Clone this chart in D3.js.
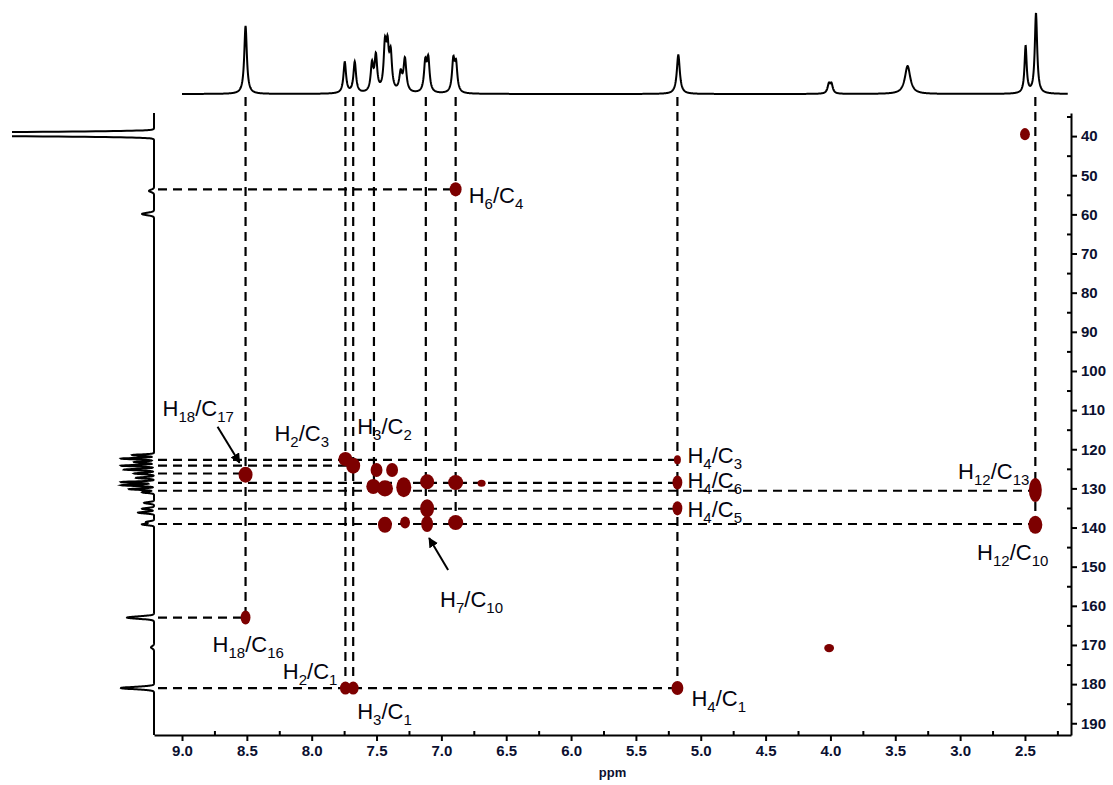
<!DOCTYPE html>
<html>
<head>
<meta charset="utf-8">
<script src="https://cdn.jsdelivr.net/npm/d3@7"></script>
<style>
  body { margin: 0; background: #fff; }
  svg { display: block; }
  text { font-family: "Liberation Sans", Arial, sans-serif; }
</style>
</head>
<body>
<svg id="chart" width="1113" height="785"></svg>
<script>
// 1H projection (top): [ppm, height, half width in ppm]
const protonPeaks = [
  [8.51, 68, 0.012],
  [7.745, 31, 0.012], [7.668, 31, 0.012],
  [7.535, 27, 0.012], [7.505, 35, 0.012],
  [7.435, 44, 0.012], [7.415, 38, 0.011], [7.391, 36, 0.012],
  [7.314, 18, 0.013], [7.281, 33, 0.013],
  [7.124, 29, 0.012], [7.101, 32, 0.012],
  [6.908, 31, 0.012], [6.887, 27, 0.012],
  [5.173, 39, 0.014],
  [4.012, 9, 0.012], [3.992, 9, 0.012],
  [3.405, 28, 0.025],
  [2.495, 47, 0.010],
  [2.415, 80, 0.011]
]

// 13C projection (left): [ppm, intensity, sigma in ppm]
const carbonPeaks = [
  [39.5, 483, 0.35],
  [54.0, 5, 0.3], [59.9, 12, 0.3],
  [121.5, 22, 0.18], [122.4, 33, 0.18], [123.3, 20, 0.18], [124.2, 33, 0.18],
  [125.2, 30, 0.18], [126.2, 20, 0.18], [127.3, 18, 0.18], [128.4, 33, 0.18],
  [129.2, 33, 0.18], [130.2, 25, 0.18], [131.0, 12, 0.18],
  [133.7, 10, 0.2], [135.2, 12, 0.2], [136.2, 16, 0.2],
  [138.6, 8, 0.2], [139.2, 12, 0.2],
  [163.0, 27, 0.3], [170.6, 3, 0.3], [181.0, 33, 0.3]
]

// HMBC cross peaks: [1H ppm, 13C ppm, 1H width, 13C width]
const crossPeaks = [
  [8.51, 126.5, 0.054, 2.05],
  [7.74, 122.5, 0.054, 1.8],
  [7.68, 124.2, 0.054, 2.05],
  [7.50, 125.3, 0.046, 1.8],
  [7.38, 125.3, 0.046, 1.8],
  [7.525, 129.5, 0.054, 1.92],
  [7.435, 130.0, 0.062, 2.05],
  [7.29, 129.7, 0.058, 2.56],
  [7.11, 128.3, 0.054, 1.92],
  [6.89, 128.5, 0.058, 1.92],
  [6.69, 128.7, 0.031, 0.9],
  [7.11, 135.1, 0.054, 2.3],
  [7.435, 139.3, 0.054, 2.05],
  [7.28, 138.7, 0.038, 1.54],
  [7.11, 139.1, 0.046, 2.05],
  [6.89, 138.7, 0.058, 1.92],
  [6.89, 53.6, 0.046, 1.8],
  [5.18, 122.7, 0.027, 1.15],
  [5.18, 128.5, 0.038, 1.8],
  [5.18, 135.1, 0.038, 1.8],
  [2.42, 130.4, 0.05, 3.08],
  [2.42, 139.3, 0.054, 2.3],
  [2.50, 39.5, 0.038, 1.54],
  [4.01, 170.8, 0.038, 1.03],
  [8.51, 163.0, 0.038, 1.8],
  [7.74, 181.0, 0.042, 1.67],
  [7.68, 181.0, 0.042, 1.67],
  [5.18, 181.0, 0.046, 1.8]
]

// dashed guides: vertical [1H ppm, lowest 13C ppm], horizontal [13C ppm, last 1H ppm]
const protonGuides = [[8.51, 163], [7.74, 181], [7.68, 181], [7.52, 129.5], [7.12, 139.1], [6.89, 139.1], [5.18, 181], [2.42, 139.3]]
const carbonGuides = [[53.6, 6.89], [122.7, 5.18], [124.2, 7.68], [126.2, 8.51], [128.6, 5.18], [130.6, 2.42], [135.2, 5.18], [139.1, 2.42], [163, 8.51], [181, 5.18]]

const hTicks = [9.0, 8.5, 8.0, 7.5, 7.0, 6.5, 6.0, 5.5, 5.0, 4.5, 4.0, 3.5, 3.0, 2.5]
const hMinor = [8.75, 8.25, 7.75, 7.25, 6.75, 6.25, 5.75, 5.25, 4.75, 4.25, 3.75, 3.25, 2.75, 2.25]
const cTicks = [40, 50, 60, 70, 80, 90, 100, 110, 120, 130, 140, 150, 160, 170, 180, 190]
const cMinor = [35, 45, 55, 65, 75, 85, 95, 105, 115, 125, 135, 145, 155, 165, 175, 185]

// assignments: [H sub, C sub, anchor 1H, anchor 13C, dx, dy, text-anchor]
const labels = [
  ["18", "17", 8.51, 126.5, -83, -59, "start"],
  ["2", "3", 7.74, 122.5, -71, -18, "start"],
  ["3", "2", 7.68, 124.2, 4, -32, "start"],
  ["6", "4", 6.89, 53.6, 13, 14, "start"],
  ["4", "3", 5.18, 122.7, 10, 3, "start"],
  ["4", "6", 5.18, 128.5, 10, 5, "start"],
  ["4", "5", 5.18, 135.1, 10, 9, "start"],
  ["12", "13", 2.42, 130.4, -6, -11, "end"],
  ["12", "10", 2.42, 139.3, 13, 35, "end"],
  ["7", "10", 7.11, 139.1, 13, 83, "start"],
  ["18", "16", 8.51, 163.0, -33, 34, "start"],
  ["2", "1", 7.74, 181.0, -8, -9, "end"],
  ["3", "1", 7.68, 181.0, 4, 31, "start"],
  ["4", "1", 5.18, 181.0, 14, 18, "start"]
]
// arrows: [anchor 1H, anchor 13C, from dx, from dy, to dx, to dy]
const arrows = [
  [8.51, 126.5, -28, -48, -6, -12],
  [7.11, 139.1, 21, 46, 2, 14]
]

const svg = d3.select("#chart")
const ink = "#000"
const red = "#7d0000"

const x = d3.scaleLinear().domain([9.216, 2.145]).range([154, 1071])
const y = d3.scaleLinear().domain([34.1, 193]).range([113, 735])
const yTop = d3.scaleLinear().domain([0, 81]).range([94, 13])
const xLeft = d3.scaleLinear().domain([0, 142]).range([154, 12])

const defs = svg.append("defs")
defs.append("clipPath").attr("id", "leftClip")
  .append("rect").attr("x", 12).attr("y", 100).attr("width", 160).attr("height", 650)
defs.append("marker")
  .attr("id", "arrow")
  .attr("viewBox", "0 -5 10 10")
  .attr("refX", 9)
  .attr("markerWidth", 5)
  .attr("markerHeight", 5)
  .attr("orient", "auto")
  .append("path")
  .attr("d", "M0,-5L10,0L0,5Z")
  .attr("fill", ink)

// top 1H projection
const topPts = d3.range(9.0, 2.169, -0.002).map(p => {
  let v = 0
  protonPeaks.forEach(([p0, h, w]) => { v += h / (1 + ((p - p0) / w) ** 2) })
  return [p, v]
})
svg.append("path")
  .datum(topPts)
  .attr("d", d3.line().x(d => x(d[0])).y(d => yTop(d[1])))
  .attr("fill", "none")
  .attr("stroke", ink)
  .attr("stroke-width", 2)

// left 13C projection
const leftPts = d3.range(34.1, 193.01, 0.03).map(c => {
  let v = 0
  carbonPeaks.forEach(([c0, h, s]) => { v += h * Math.exp(-((c - c0) ** 2) / (2 * s * s)) })
  return [c, v]
})
svg.append("path")
  .datum(leftPts)
  .attr("clip-path", "url(#leftClip)")
  .attr("d", d3.line().x(d => xLeft(d[1])).y(d => y(d[0])))
  .attr("fill", "none")
  .attr("stroke", ink)
  .attr("stroke-width", 2)

// dashed guides
const guides = svg.append("g")
  .attr("stroke", ink)
  .attr("stroke-width", 2.2)
  .attr("stroke-dasharray", "9,6")
  .attr("fill", "none")

guides.selectAll("line.v")
  .data(protonGuides)
  .join("line")
  .attr("class", "v")
  .attr("x1", d => x(d[0]))
  .attr("x2", d => x(d[0]))
  .attr("y1", 97)
  .attr("y2", d => y(d[1]))

guides.selectAll("line.h")
  .data(carbonGuides)
  .join("line")
  .attr("class", "h")
  .attr("x1", 158)
  .attr("x2", d => x(d[1]))
  .attr("y1", d => y(d[0]))
  .attr("y2", d => y(d[0]))

// cross peaks
svg.append("g").selectAll("ellipse")
  .data(crossPeaks)
  .join("ellipse")
  .attr("cx", d => x(d[0]))
  .attr("cy", d => y(d[1]))
  .attr("rx", d => Math.abs(x(d[0] + d[2]) - x(d[0])))
  .attr("ry", d => Math.abs(y(d[1] + d[3]) - y(d[1])))
  .attr("fill", red)

// axes
svg.append("g")
  .attr("transform", "translate(0,735)")
  .call(d3.axisBottom(x).tickValues(hTicks).tickFormat(d3.format(".1f")).tickSize(6).tickSizeOuter(0).tickPadding(4))
svg.append("g")
  .attr("transform", "translate(0,735)")
  .call(d3.axisTop(x).tickValues(hMinor).tickFormat("").tickSize(4))
  .call(g => g.select(".domain").remove())

svg.append("g")
  .attr("transform", "translate(1071,0)")
  .call(d3.axisRight(y).tickValues(cTicks).tickSize(6).tickSizeOuter(0).tickPadding(4))
svg.append("g")
  .attr("transform", "translate(1071,0)")
  .call(d3.axisLeft(y).tickValues(cMinor).tickFormat("").tickSize(4))
  .call(g => g.select(".domain").remove())

svg.selectAll(".domain").attr("stroke", ink).attr("stroke-width", 2)
svg.selectAll(".tick line").attr("stroke", ink).attr("stroke-width", 2)
svg.selectAll(".tick text")
  .attr("fill", "#0b1030")
  .attr("font-size", 15)
  .attr("font-weight", "bold")
  .attr("font-family", "\"Liberation Sans\", Arial, sans-serif")

svg.append("text")
  .attr("x", x(5.68))
  .attr("y", 777)
  .attr("text-anchor", "middle")
  .attr("font-size", 13)
  .attr("font-weight", "bold")
  .attr("fill", "#0b1030")
  .text("ppm")

// assignment labels
const lab = svg.append("g").attr("font-size", 22).attr("fill", "#050510")
labels.forEach(([hs, cs, hp, cp, dx, dy, anchor]) => {
  const t = lab.append("text")
    .attr("x", x(hp) + dx)
    .attr("y", y(cp) + dy)
    .attr("text-anchor", anchor)
  t.append("tspan").text("H")
  t.append("tspan").attr("font-size", 15).attr("dy", 6).text(hs)
  t.append("tspan").attr("dy", -6).text("/C")
  t.append("tspan").attr("font-size", 15).attr("dy", 6).text(cs)
})

svg.append("g").selectAll("line")
  .data(arrows)
  .join("line")
  .attr("x1", d => x(d[0]) + d[2])
  .attr("y1", d => y(d[1]) + d[3])
  .attr("x2", d => x(d[0]) + d[4])
  .attr("y2", d => y(d[1]) + d[5])
  .attr("stroke", ink)
  .attr("stroke-width", 2)
  .attr("marker-end", "url(#arrow)")
</script>
</body>
</html>
